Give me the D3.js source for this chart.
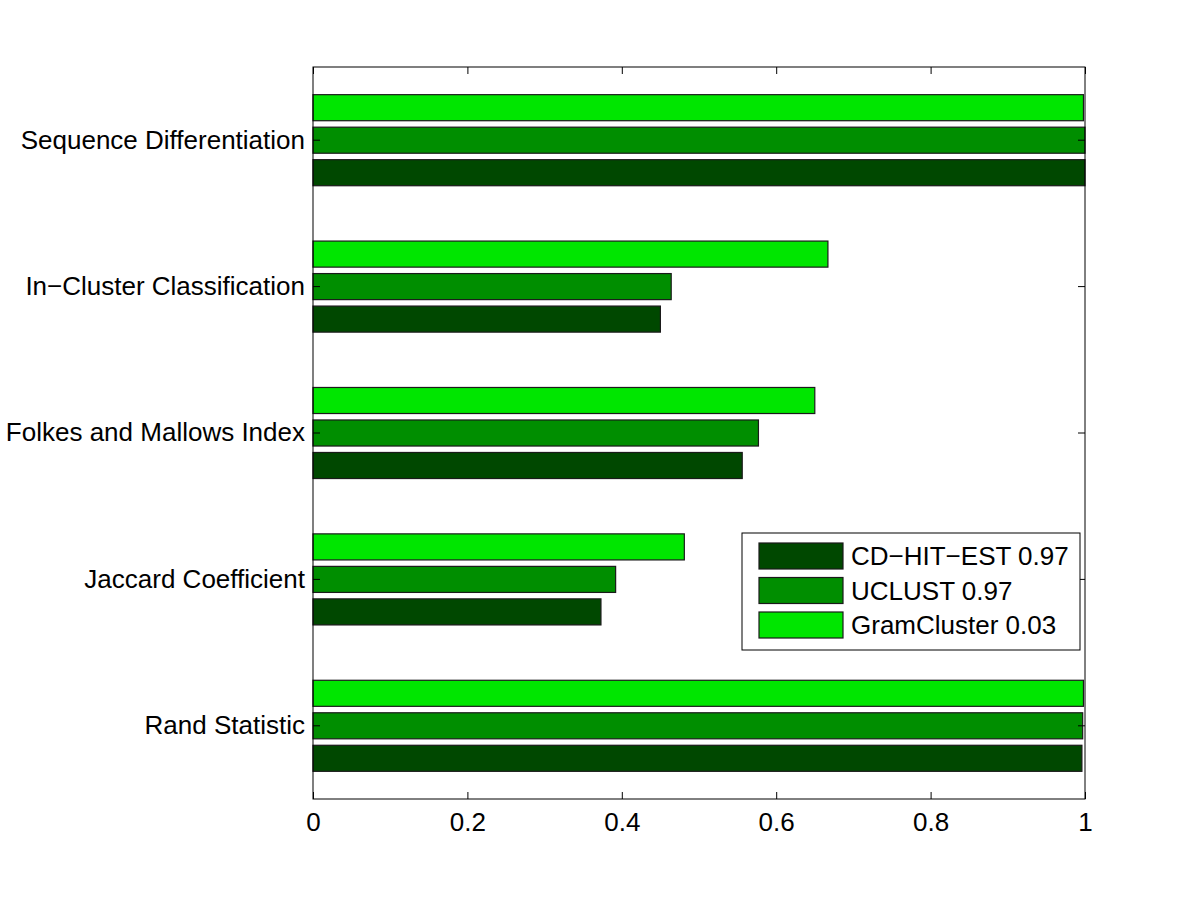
<!DOCTYPE html>
<html><head><meta charset="utf-8">
<script src="https://cdn.jsdelivr.net/npm/d3@7"></script>
<style>body{margin:0;background:#fff;} text{font-family:"Liberation Sans",Arial,Helvetica,sans-serif;}</style>
</head><body>
<svg id="c" width="1200" height="900"></svg>
<script>
const categories = ["Sequence Differentiation","In\u2212Cluster Classification","Folkes and Mallows Index","Jaccard Coefficient","Rand Statistic"];
const seriesNames = ["CD\u2212HIT\u2212EST 0.97","UCLUST 0.97","GramCluster 0.03"];
const cdhit = [1.0, 0.450, 0.556, 0.373, 0.996];
const uclust = [1.0, 0.464, 0.577, 0.392, 0.997];
const gram = [0.998, 0.667, 0.650, 0.481, 0.998];
const xTicks = [0, 0.2, 0.4, 0.6, 0.8, 1];
const colors = ["#004800", "#008e00", "#00e600"];

const series = [cdhit, uclust, gram];
const svg = d3.select("#c");
const L = 313, R = 1085, T = 67, B = 799;
const FS = 26;
const x = d3.scaleLinear().domain([0,1]).range([L,R]);
const y = d3.scaleBand().domain(categories).range([T,B]).paddingInner(0).paddingOuter(0);
const bw = y.bandwidth();
const barH = bw*0.178, off = bw*0.222;

svg.append("rect").attr("x",L).attr("y",T).attr("width",R-L).attr("height",B-T).attr("fill","#fff");

series.forEach((vals,si)=>{
  svg.append("g").selectAll("rect").data(vals).join("rect")
    .attr("x",x(0))
    .attr("y",(d,i)=> y(categories[i]) + bw/2 + (1-si)*off - barH/2)
    .attr("width",d=>x(d)-x(0))
    .attr("height",barH)
    .attr("fill",colors[si]).attr("stroke","#1a1a1a").attr("stroke-width",1.2);
});

// frame
svg.append("rect").attr("x",L).attr("y",T).attr("width",R-L).attr("height",B-T)
  .attr("fill","none").attr("stroke","#000").attr("stroke-width",1);

// x axis bottom (inward ticks)
const xa = svg.append("g").attr("transform",`translate(0,${B})`)
  .call(d3.axisBottom(x).tickValues(xTicks).tickFormat(d=>d3.format("")(d)).tickSizeInner(-7).tickSizeOuter(0).tickPadding(14));
xa.select(".domain").remove();
xa.selectAll("text").attr("font-size",FS).attr("fill","#000");
xa.selectAll("line").attr("stroke","#000");
// top ticks
const xt = svg.append("g").attr("transform",`translate(0,${T})`)
  .call(d3.axisTop(x).tickValues(xTicks).tickFormat("").tickSizeInner(-7).tickSizeOuter(0));
xt.select(".domain").remove();
xt.selectAll("line").attr("stroke","#000");

// y axis left
const ya = svg.append("g").attr("transform",`translate(${L},0)`)
  .call(d3.axisLeft(y).tickSizeInner(-7).tickSizeOuter(0).tickPadding(8));
ya.select(".domain").remove();
ya.selectAll("text").attr("font-size",FS).attr("fill","#000");
ya.selectAll("line").attr("stroke","#000");
const yr = svg.append("g").attr("transform",`translate(${R},0)`)
  .call(d3.axisRight(y).tickSizeInner(-7).tickSizeOuter(0).tickFormat(""));
yr.select(".domain").remove();
yr.selectAll("line").attr("stroke","#000");

// legend
const lg = svg.append("g");
lg.append("rect").attr("x",742).attr("y",533).attr("width",338).attr("height",117)
  .attr("fill","#fff").attr("stroke","#000").attr("stroke-width",1);
seriesNames.forEach((n,i)=>{
  const yy = 543 + i*34.5;
  lg.append("rect").attr("x",759).attr("y",yy).attr("width",84).attr("height",26)
    .attr("fill",colors[i]).attr("stroke","#1a1a1a").attr("stroke-width",1.2);
  lg.append("text").attr("x",851).attr("y",yy+13).attr("dy","0.35em")
    .attr("font-size",FS).attr("fill","#000").text(n);
});
</script>
</body></html>
